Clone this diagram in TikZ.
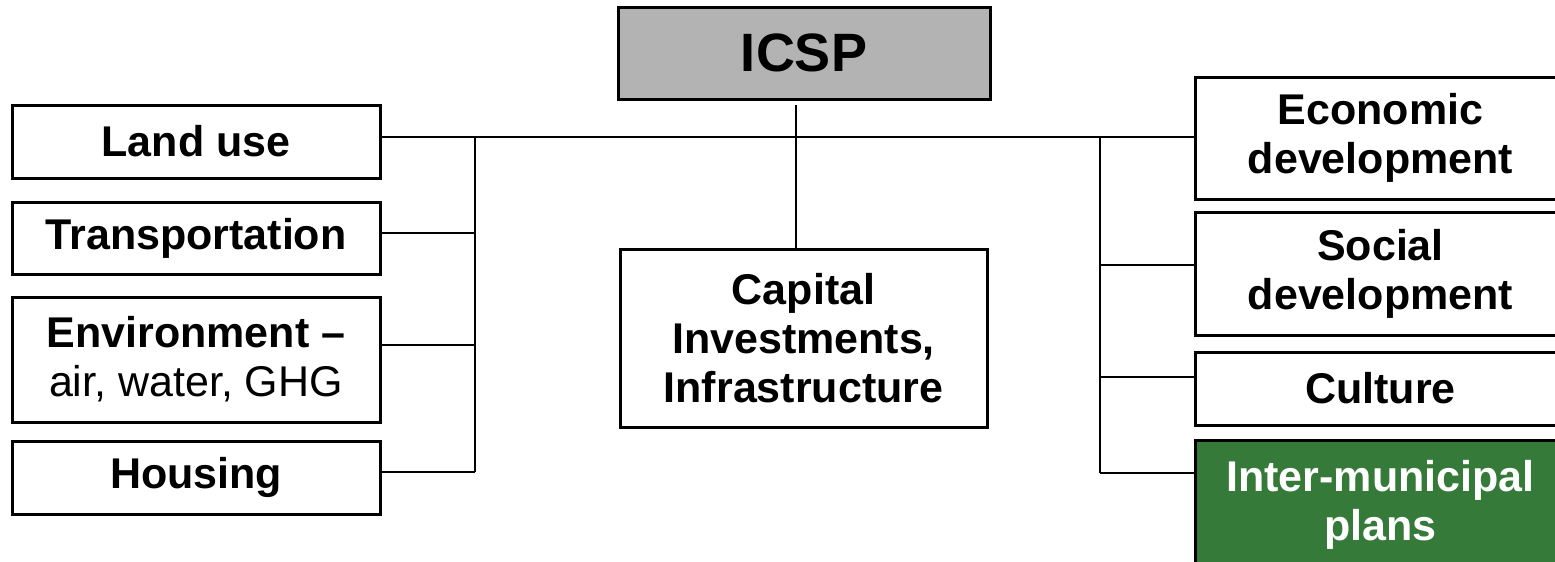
\documentclass[tikz,border=0pt]{standalone}
\usepackage{fontspec}
\setmainfont{Liberation Sans}
\definecolor{icspgray}{RGB}{179,179,179}
\definecolor{imgreen}{RGB}{54,122,58}
\begin{document}
\begin{tikzpicture}[x=1pt,y=-1pt,
  box/.style={draw=black, line width=3pt, fill=white, align=center, inner sep=0pt,
    font=\fontsize{43}{49}\selectfont\bfseries},
  wire/.style={line width=2pt}]
\useasboundingbox (0,0) rectangle (1555,562);
\clip (0,0) rectangle (1555,562);
\fill[white] (0,0) rectangle (1555,562);
% top
\node[box, fill=icspgray, minimum width=372pt, minimum height=92pt,
  font=\fontsize{54}{60}\selectfont\bfseries] (icsp) at (804,53) {ICSP};
% left column
\node[box, minimum width=368pt, minimum height=73pt] (land) at (196,141.5) {Land use};
\node[box, minimum width=368pt, minimum height=72pt] (trans) at (196,238) {Transportation};
\node[box, minimum width=368pt, minimum height=125pt] (env) at (196,359.5) {Environment --\\\mdseries air, water, GHG};
\node[box, minimum width=368pt, minimum height=73pt] (hous) at (196,477.5) {Housing};
% centre
\node[box, minimum width=367pt, minimum height=178pt] (cap) at (803.5,338) {Capital\\Investments,\\Infrastructure};
% right column
\node[box, minimum width=371pt, minimum height=122pt] (econ) at (1380.5,138) {Economic\\development};
\node[box, minimum width=371pt, minimum height=123pt] (soc) at (1380.5,273.5) {Social\\development};
\node[box, minimum width=371pt, minimum height=73pt] (cult) at (1380.5,388.5) {Culture};
\node[box, fill=imgreen, text=white, minimum width=371pt, minimum height=130pt] (inter) at (1380.5,505) {Inter-municipal\\plans};
% junctions
\coordinate (vtop) at (796,105);
\coordinate (lbT) at (475,137);
\coordinate (lbTr) at (475,233);
\coordinate (lbE) at (475,345);
\coordinate (lbH) at (475,472);
\coordinate (rbT) at (1100,137);
\coordinate (rbS) at (1100,265);
\coordinate (rbC) at (1100,377);
\coordinate (rbI) at (1100,473);
% connectors
\draw[wire] (vtop) -- (cap.north -| vtop);
\draw[wire] (land.east |- lbT) -- (econ.west |- rbT);
\draw[wire] (lbT) -- (lbH);
\draw[wire] (trans.east |- lbTr) -- (lbTr);
\draw[wire] (env.east |- lbE) -- (lbE);
\draw[wire] (hous.east |- lbH) -- (lbH);
\draw[wire] (rbT) -- (rbI);
\draw[wire] (rbS) -- (soc.west |- rbS);
\draw[wire] (rbC) -- (cult.west |- rbC);
\draw[wire] (rbI) -- (inter.west |- rbI);
\end{tikzpicture}
\end{document}
